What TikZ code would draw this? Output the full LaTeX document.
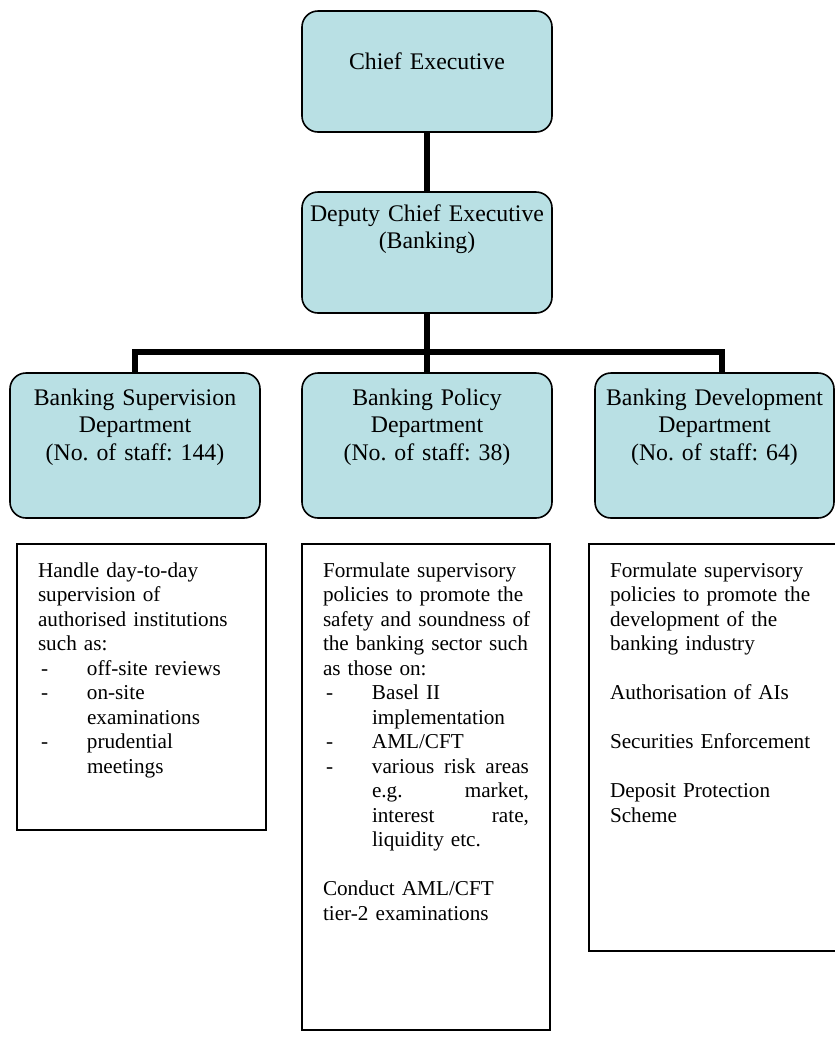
\documentclass[tikz,border=0pt]{standalone}
\usepackage{fontspec}
\setmainfont{Liberation Serif}
\frenchspacing
\definecolor{unitcyan}{RGB}{185,224,228}
\newcommand{\dashit}[1]{\makebox[49pt][l]{\hspace{3pt}-}#1}
\newcommand{\indit}[1]{\hspace*{49pt}#1}
\tikzset{
  unit/.style={draw=black, fill=unitcyan, line width=1.6pt, rounded corners=16pt,
    text width=240pt, align=center, inner xsep=5pt, inner ysep=0pt,
    font=\fontsize{23.8}{27.5}\selectfont},
  duty/.style={draw=black, fill=white, line width=1.4pt, align=left,
    inner xsep=21pt, inner ysep=0pt, text height=33pt,
    font=\fontsize{21.2}{24.5}\selectfont},
  link/.style={line width=5.5pt}
}
\begin{document}
\begin{tikzpicture}[x=1pt,y=-1pt]
\clip (0,0) rectangle (835,1045);
% management
\node[unit, text height=58pt, text depth=63pt] at (427,71.5) (ce) {Chief Executive};
\node[unit, text height=29pt, text depth=92pt] at (427,252.5) (dce) {Deputy Chief Executive\\(Banking)};
% departments
\node[unit, text height=32pt, text depth=113pt] at (135,445.5) (sup) {Banking Supervision\\Department\\(No. of staff: 144)};
\node[unit, text height=32pt, text depth=113pt] at (427,445.5) (pol) {Banking Policy\\Department\\(No. of staff: 38)};
\node[unit, text width=229pt, text height=32pt, text depth=113pt] at (714.5,445.5) (dev) {Banking Development\\Department\\(No. of staff: 64)};
% duties
\node[duty, text width=207pt, text depth=253pt] at (141.5,687) (supduty) {Handle day-to-day\\supervision of\\\mbox{authorised institutions}\\such as:\\\dashit{off-site reviews}\\\dashit{on-site}\\\indit{examinations}\\\dashit{prudential}\\\indit{meetings}};
\node[duty, text width=206pt, text depth=453pt] at (426,787) (polduty) {Formulate supervisory\\\mbox{policies to promote the}\\\mbox{safety and soundness of}\\\mbox{the banking sector such}\\as those on:\\\dashit{Basel II}\\\indit{implementation}\\\dashit{AML/CFT}\\\dashit{\makebox[157pt][l]{various\hfill risk\hfill areas}}\\\indit{\makebox[157pt][l]{e.g.\hfill market,}}\\\indit{\makebox[157pt][l]{interest\hfill rate,}}\\\indit{liquidity etc.}\\[24.5pt]Conduct AML/CFT\\tier-2 examinations};
\node[duty, text width=214pt, text depth=374pt] at (717,747.5) (devduty) {Formulate supervisory\\\mbox{policies to promote the}\\development of the\\banking industry\\[24.5pt]Authorisation of AIs\\[24.5pt]\mbox{Securities Enforcement}\\[24.5pt]Deposit Protection\\Scheme};
% lines
\coordinate (bar) at (427,352);
\draw[link] (ce) -- (dce);
\draw[link] (dce) -- (pol);
\draw[link] (sup.north) |- (bar) -| ([xshift=7.5pt]dev.north);
\end{tikzpicture}
\end{document}
